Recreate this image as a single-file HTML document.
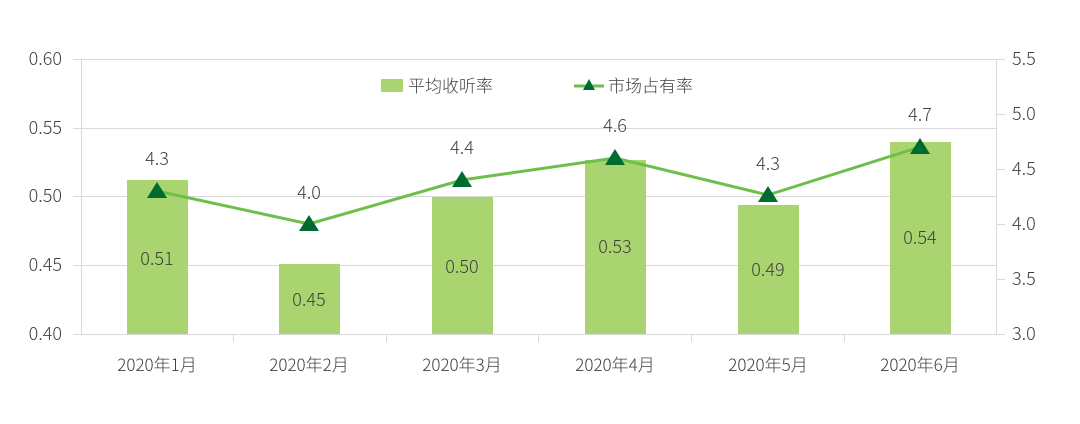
<!DOCTYPE html>
<html><head><meta charset="utf-8"><style>
html,body{margin:0;padding:0;background:#fff;}
svg text{font-family:"Noto Sans CJK SC","Liberation Sans",sans-serif;font-weight:300;fill:#404040;}
</style></head><body>
<svg width="1080" height="419" xmlns="http://www.w3.org/2000/svg">
<g stroke="#d9d9d9" stroke-width="1">
<line x1="81" y1="59.5" x2="997" y2="59.5"/>
<line x1="81" y1="128.5" x2="997" y2="128.5"/>
<line x1="81" y1="196.5" x2="997" y2="196.5"/>
<line x1="81" y1="265.5" x2="997" y2="265.5"/>
<line x1="73" y1="334.5" x2="1005" y2="334.5"/>
<line x1="81.5" y1="59" x2="81.5" y2="334"/>
<line x1="996.5" y1="59" x2="996.5" y2="334"/>
<line x1="73" y1="59.5" x2="81" y2="59.5"/><line x1="73" y1="128.5" x2="81" y2="128.5"/><line x1="73" y1="196.5" x2="81" y2="196.5"/><line x1="73" y1="265.5" x2="81" y2="265.5"/>
<line x1="997" y1="59.5" x2="1005" y2="59.5"/><line x1="997" y1="114.5" x2="1005" y2="114.5"/><line x1="997" y1="169.5" x2="1005" y2="169.5"/><line x1="997" y1="224.5" x2="1005" y2="224.5"/><line x1="997" y1="279.5" x2="1005" y2="279.5"/>
<line x1="233.5" y1="334" x2="233.5" y2="342"/><line x1="386.5" y1="334" x2="386.5" y2="342"/><line x1="538.5" y1="334" x2="538.5" y2="342"/><line x1="691.5" y1="334" x2="691.5" y2="342"/><line x1="844.5" y1="334" x2="844.5" y2="342"/>
</g>
<g font-size="18" text-anchor="end">
<text x="62" y="65">0.60</text><text x="62" y="134">0.55</text><text x="62" y="202">0.50</text><text x="62" y="271">0.45</text><text x="62" y="340">0.40</text>
</g>
<g font-size="18" text-anchor="start">
<text x="1012" y="65">5.5</text><text x="1012" y="120">5.0</text><text x="1012" y="175">4.5</text><text x="1012" y="230">4.0</text><text x="1012" y="285">3.5</text><text x="1012" y="340">3.0</text>
</g>
<g fill="#a9d46f">
<rect x="127" y="180" width="61" height="154"/>
<rect x="279" y="264" width="61" height="70"/>
<rect x="432" y="197" width="61" height="137"/>
<rect x="585" y="160" width="61" height="174"/>
<rect x="738" y="205" width="61" height="129"/>
<rect x="890" y="142" width="61" height="192"/>
</g>
<g font-size="18" text-anchor="middle">
<text x="157" y="265">0.51</text><text x="309" y="306">0.45</text><text x="462" y="273">0.50</text><text x="615" y="253">0.53</text><text x="768" y="276">0.49</text><text x="920" y="244">0.54</text>
</g>
<polyline points="157,191 309,224 462,180 615,158 768,195 920,147" fill="none" stroke="#6cc04a" stroke-width="3"/>
<g fill="#006b30">
<polygon points="157,182 147,198 167,198"/><polygon points="309,215 299,231 319,231"/><polygon points="462,171 452,187 472,187"/><polygon points="615,149 605,165 625,165"/><polygon points="768,186 758,202 778,202"/><polygon points="920,138 910,154 930,154"/>
</g>
<g font-size="18" text-anchor="middle">
<text x="157" y="165">4.3</text><text x="309" y="199">4.0</text><text x="462" y="154">4.4</text><text x="615" y="132">4.6</text><text x="768" y="170">4.3</text><text x="920" y="121">4.7</text>
</g>
<g font-size="17" text-anchor="middle">
<text x="157" y="371">2020年1月</text><text x="309" y="371">2020年2月</text><text x="462" y="371">2020年3月</text><text x="615" y="371">2020年4月</text><text x="768" y="371">2020年5月</text><text x="920" y="371">2020年6月</text>
</g>
<rect x="381" y="79" width="22" height="13" fill="#a9d46f"/>
<text x="408" y="92" font-size="17">平均收听率</text>
<line x1="574" y1="86" x2="604" y2="86" stroke="#6cc04a" stroke-width="3"/>
<polygon points="589,79 583,90 595,90" fill="#006b30"/>
<text x="608" y="92" font-size="17">市场占有率</text>
</svg>
</body></html>
